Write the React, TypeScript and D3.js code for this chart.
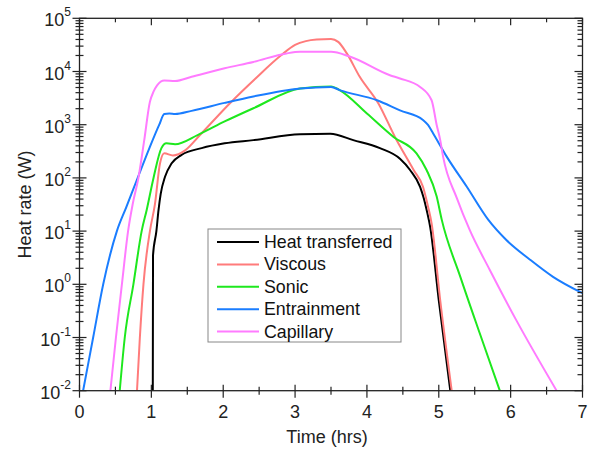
import React from 'react';
import * as d3 from 'd3';

const width = 591;
const height = 450;
const plot = { left: 79.5, right: 582.5, top: 18.3, bottom: 390.7 };

const seriesNames = ['Heat transferred', 'Viscous', 'Sonic', 'Entrainment', 'Capillary'];
const seriesColors = ['#000000', '#ff7b7b', '#1ee81e', '#1a7dff', '#ff7bff'];

// [time (hrs), heat rate (W)]
const heatTransferred: [number, number][] = [
  [1.02, 0.01], [1.023, 3.5], [1.07, 10], [1.1, 25], [1.13, 50], [1.19, 105], [1.28, 186],
  [1.42, 270], [1.7, 363], [2.02, 447], [2.42, 513], [3.07, 660], [3.49, 676], [3.81, 513],
  [4.18, 363], [4.46, 229], [4.6, 141], [4.74, 68], [4.79, 42], [4.84, 22], [4.88, 12],
  [5.0, 0.5], [5.16, 0.01],
];
const viscous: [number, number][] = [
  [0.8, 0.01], [0.84, 0.1], [0.89, 1], [0.98, 10], [1.05, 32], [1.12, 186], [1.18, 290],
  [1.3, 265], [1.47, 330], [1.68, 646], [2.09, 2510], [2.45, 7400], [2.81, 20400],
  [3.0, 31600], [3.15, 37200], [3.3, 39800], [3.5, 40700], [3.6, 36000], [3.72, 21900],
  [3.9, 7940], [4.16, 2510], [4.39, 589], [4.65, 141], [4.78, 68], [4.85, 29], [4.9, 14],
  [5.02, 0.5], [5.18, 0.01],
];
const sonic: [number, number][] = [
  [0.56, 0.01], [0.63, 0.1], [0.75, 1], [0.865, 10], [0.935, 25], [1.03, 100], [1.14, 363],
  [1.21, 447], [1.33, 430], [1.65, 646], [2.02, 1150], [2.42, 2040], [3.07, 4790],
  [3.5, 5250], [3.62, 4470], [4.0, 1620], [4.37, 589], [4.69, 288], [4.83, 141], [4.97, 45],
  [5.04, 16.6], [5.3, 1.38], [5.57, 0.12], [5.85, 0.01],
];
const entrainment: [number, number][] = [
  [0.05, 0.01], [0.19, 0.1], [0.33, 1], [0.52, 10], [0.65, 28], [0.81, 100], [0.97, 355],
  [1.11, 1000], [1.18, 1585], [1.25, 1620], [1.33, 1585], [1.56, 1820], [2.02, 2570],
  [2.42, 3390], [3.07, 4790], [3.5, 5130], [3.62, 4470], [4.14, 2880], [4.46, 1860],
  [4.78, 1230], [4.85, 990], [4.92, 692], [5.11, 251], [5.39, 68], [5.69, 16.2], [5.94, 6.8],
  [6.27, 2.9], [6.59, 1.38], [7.0, 0.68],
];
const capillary: [number, number][] = [
  [0.43, 0.01], [0.507, 0.1], [0.59, 1], [0.676, 10], [0.74, 32], [0.82, 100], [0.9, 500],
  [0.98, 2690], [1.03, 4170], [1.08, 5500], [1.18, 6760], [1.33, 6610], [1.56, 7940],
  [2.02, 11500], [2.42, 15100], [2.88, 21900], [3.07, 23400], [3.5, 23400], [3.76, 19100],
  [4.32, 8510], [4.46, 7400], [4.74, 5130], [4.9, 2880], [4.97, 1000], [5.02, 513],
  [5.06, 251], [5.25, 42], [5.43, 10.5], [5.71, 1.86], [6.08, 0.21], [6.64, 0.01],
];
const allSeries = [heatTransferred, viscous, sonic, entrainment, capillary];

const xTicks = [0, 1, 2, 3, 4, 5, 6, 7];
const xMinorTicks = [0.5, 1.5, 2.5, 3.5, 4.5, 5.5, 6.5];
const yExponents = [-2, -1, 0, 1, 2, 3, 4, 5];

const font = 'Liberation Sans, Arial, sans-serif';

export default function App() {
  const x = d3.scaleLinear().domain([0, 7]).range([plot.left, plot.right]);
  const y = d3.scaleLog().domain([0.01, 1e5]).range([plot.bottom, plot.top]);

  const line = d3.line<[number, number]>()
    .x(d => x(d[0]))
    .y(d => y(d[1]))
    .curve(d3.curveMonotoneX);

  const yMinor: number[] = [];
  yExponents.slice(0, -1).forEach(e => {
    d3.range(2, 10).forEach(m => yMinor.push(m * 10 ** e));
  });

  const legendRows = seriesNames.map((n, i) => 242 + i * 22.4);

  return (
    <svg width={width} height={height} style={{ position: 'absolute', left: 0, top: 0, background: '#fff' }}>
      <defs>
        <clipPath id="plotclip">
          <rect x={plot.left} y={plot.top} width={plot.right - plot.left} height={plot.bottom - plot.top} />
        </clipPath>
      </defs>

      <g clipPath="url(#plotclip)">
        {allSeries.map((s, i) => (
          <path key={seriesNames[i]} d={line(s) || ''} fill="none"
                stroke={seriesColors[i]} strokeWidth={2} strokeLinejoin="round" />
        ))}
      </g>

      {/* frame */}
      <rect x={plot.left} y={plot.top} width={plot.right - plot.left} height={plot.bottom - plot.top}
            fill="none" stroke="#222" strokeWidth={1.3} />

      {/* x ticks */}
      {xTicks.map(t => (
        <g key={'x' + t}>
          <line x1={x(t)} x2={x(t)} y1={plot.bottom - 6} y2={plot.bottom + 7} stroke="#222" strokeWidth={1.2} />
          <line x1={x(t)} x2={x(t)} y1={plot.top} y2={plot.top + 7} stroke="#222" strokeWidth={1.2} />
          <text x={x(t)} y={418} textAnchor="middle" fontFamily={font} fontSize={18} fill="#222">{t}</text>
        </g>
      ))}
      {xMinorTicks.map(t => (
        <g key={'xm' + t}>
          <line x1={x(t)} x2={x(t)} y1={plot.bottom - 4} y2={plot.bottom + 4} stroke="#222" strokeWidth={1.2} />
          <line x1={x(t)} x2={x(t)} y1={plot.top} y2={plot.top + 4} stroke="#222" strokeWidth={1.2} />
        </g>
      ))}

      {/* y ticks */}
      {yExponents.map(e => (
        <g key={'y' + e}>
          <line x1={plot.left - 7} x2={plot.left + 7} y1={y(10 ** e)} y2={y(10 ** e)} stroke="#222" strokeWidth={1.2} />
          <line x1={plot.right - 8} x2={plot.right} y1={y(10 ** e)} y2={y(10 ** e)} stroke="#222" strokeWidth={1.2} />
          <text x={71} y={y(10 ** e) + 8} textAnchor="end" fontFamily={font} fontSize={18} fill="#222">
            10<tspan fontSize={12} dy={-10}>{e}</tspan>
          </text>
        </g>
      ))}
      {yMinor.map(v => (
        <g key={'ym' + v}>
          <line x1={plot.left - 4} x2={plot.left + 4} y1={y(v)} y2={y(v)} stroke="#222" strokeWidth={1.2} />
          <line x1={plot.right - 5} x2={plot.right} y1={y(v)} y2={y(v)} stroke="#222" strokeWidth={1.2} />
        </g>
      ))}

      {/* axis titles */}
      <text x={(plot.left + plot.right) / 2 - 4} y={443} textAnchor="middle" fontFamily={font} fontSize={18} fill="#222">
        Time (hrs)
      </text>
      <text transform={`translate(31,${(plot.top + plot.bottom) / 2}) rotate(-90)`} textAnchor="middle"
            fontFamily={font} fontSize={18} fill="#222">
        Heat rate (W)
      </text>

      {/* legend */}
      <rect x={208} y={229} width={193} height={113} fill="#fff" stroke="#888" strokeWidth={1} />
      {seriesNames.map((n, i) => (
        <g key={'leg' + n}>
          <line x1={217} x2={259} y1={legendRows[i]} y2={legendRows[i]} stroke={seriesColors[i]} strokeWidth={2} />
          <text x={264} y={legendRows[i] + 6} fontFamily={font} fontSize={17.8} fill="#111">{n}</text>
        </g>
      ))}
    </svg>
  );
}
